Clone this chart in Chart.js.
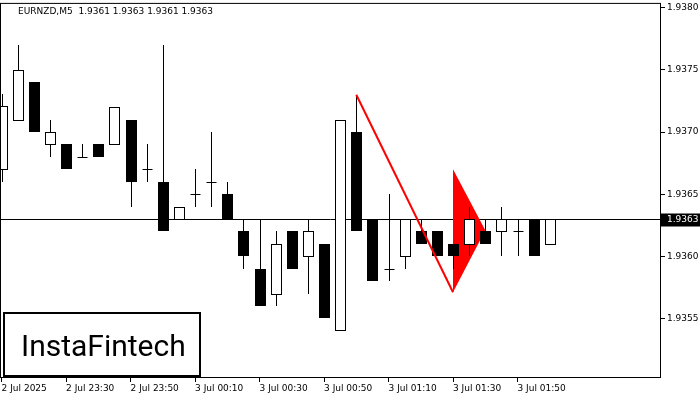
<!DOCTYPE html>
<html><head><meta charset="utf-8">
<script src="https://cdn.jsdelivr.net/npm/chart.js@4"></script>
<style>html,body{margin:0;padding:0;background:#fff}#w{width:700px;height:400px}</style>
</head><body><div id="w"><canvas id="c"></canvas></div>
<script>
const timeLabels = ["2 Jul 2025","2 Jul 23:30","2 Jul 23:50","3 Jul 00:10","3 Jul 00:30","3 Jul 00:50","3 Jul 01:10","3 Jul 01:30","3 Jul 01:50"];
const labelIndex = [0,4,8,12,16,20,24,28,32];
const opens  = [1.9367,1.9371,1.9374,1.9369,1.9369,1.9368,1.9369,1.9369,1.9371,1.9367,1.9366,1.9363,1.9365,1.9366,1.9365,1.9362,1.9359,1.9357,1.9362,1.9360,1.9361,1.93541,1.9370,1.9363,1.9359,1.9360,1.9362,1.9362,1.9361,1.9361,1.9362,1.9362,1.9362,1.9363,1.9361];
const highs  = [1.93731,1.9377,1.9374,1.9371,1.9369,1.9369,1.9369,1.9372,1.9371,1.9369,1.9377,1.9364,1.9367,1.9370,1.9366,1.9363,1.9363,1.9362,1.9362,1.9363,1.9361,1.9371,1.9373,1.9363,1.9365,1.9363,1.9363,1.9362,1.9361,1.9364,1.9363,1.9364,1.9363,1.9363,1.9363];
const lows   = [1.9366,1.9371,1.9370,1.9368,1.9367,1.9368,1.9368,1.9369,1.9364,1.9366,1.9362,1.9363,1.9364,1.9364,1.9363,1.9359,1.9356,1.9356,1.9359,1.9357,1.9355,1.93541,1.9362,1.9358,1.9358,1.9359,1.9361,1.9360,1.9359,1.9360,1.9361,1.9360,1.9360,1.9360,1.9361];
const closes = [1.93721,1.9375,1.9370,1.9370,1.9367,1.9368,1.9368,1.9372,1.9366,1.9367,1.9362,1.9364,1.9365,1.9366,1.9363,1.9360,1.9356,1.9361,1.9359,1.9362,1.9355,1.9371,1.9362,1.9358,1.9359,1.9363,1.9361,1.9360,1.9360,1.9363,1.9361,1.9363,1.9362,1.9360,1.9363];
const yTicks = [1.9355,1.9360,1.9365,1.9370,1.9375,1.9380];
const currentPrice = 1.9363;
const patternLine = [[22,1.9373],[28,1.93571]];
const pennant = [[28,1.9367],[30,1.93621],[28,1.93571]];
const title = "EURNZD,M5  1.9361 1.9363 1.9361 1.9363";

const candlePlugin = {
  id:'candles',
  afterDatasetsDraw(chart){
    const {ctx, chartArea:a, scales:{x,y}} = chart;
    ctx.save();
    ctx.beginPath(); ctx.rect(a.left,a.top,a.right-a.left,a.bottom-a.top); ctx.clip();
    const py = Math.round(y.getPixelForValue(currentPrice))+0.5;
    ctx.strokeStyle='#000'; ctx.lineWidth=1;
    ctx.beginPath(); ctx.moveTo(a.left,py); ctx.lineTo(a.right,py); ctx.stroke();
    ctx.fillStyle='#ff0000';
    ctx.beginPath();
    pennant.forEach((p,i)=>{const X=x.getPixelForValue(p[0]),Y=y.getPixelForValue(p[1]); i?ctx.lineTo(X,Y):ctx.moveTo(X,Y);});
    ctx.closePath(); ctx.fill();
    for(let i=0;i<opens.length;i++){
      const cx = Math.round(x.getPixelForValue(i))+0.5;
      const yo=y.getPixelForValue(opens[i]), yc=y.getPixelForValue(closes[i]);
      const yh=y.getPixelForValue(highs[i]), yl=y.getPixelForValue(lows[i]);
      ctx.strokeStyle='#000'; ctx.lineWidth=1;
      ctx.beginPath(); ctx.moveTo(cx,Math.round(yh)); ctx.lineTo(cx,Math.round(yl)); ctx.stroke();
      const t=Math.round(Math.min(yo,yc)), b=Math.round(Math.max(yo,yc));
      if(b-t<1){ctx.beginPath();ctx.moveTo(cx-5,t+0.5);ctx.lineTo(cx+5,t+0.5);ctx.stroke();continue;}
      if(closes[i]<opens[i]){ctx.fillStyle='#000';ctx.fillRect(cx-5.5,t,11,b-t);}
      else{ctx.fillStyle='#fff';ctx.fillRect(cx-5,t+0.5,10,b-t);ctx.strokeRect(cx-5,t+0.5,10,b-t);}
    }
    ctx.strokeStyle='#ff0000'; ctx.lineWidth=2;
    ctx.beginPath();
    ctx.moveTo(x.getPixelForValue(patternLine[0][0]),y.getPixelForValue(patternLine[0][1]));
    ctx.lineTo(x.getPixelForValue(patternLine[1][0]),y.getPixelForValue(patternLine[1][1]));
    ctx.stroke();
    ctx.restore();
    ctx.save();
    ctx.strokeStyle='#000'; ctx.lineWidth=1;
    ctx.strokeRect(a.left+0.5,a.top+0.5,a.right-a.left-1,a.bottom-a.top-1);
    ctx.fillStyle='#000'; ctx.font='9px "DejaVu Sans"'; ctx.textBaseline='middle';
    ctx.fillText(title,18,12);
    ctx.fillStyle='#000'; ctx.fillRect(a.right,py-6,39,13);
    ctx.fillStyle='#fff'; ctx.fillText(currentPrice.toFixed(4),a.right+6,py+0.5);
    ctx.fillStyle='#fff'; ctx.fillRect(3,312,197,65);
    ctx.strokeStyle='#000'; ctx.lineWidth=2; ctx.strokeRect(4,313,196,63);
    ctx.fillStyle='#000'; ctx.font='400 30px "Roboto"'; ctx.textBaseline='alphabetic';
    ctx.fillText('InstaFintech',21,356);
    ctx.restore();
  }
};

new Chart(document.getElementById('c'),{
  type:'line',
  data:{datasets:[{data:closes.map((c,i)=>({x:i,y:c})),showLine:false,pointRadius:0,borderColor:'transparent'}]},
  options:{
    responsive:true, maintainAspectRatio:false, animation:false,
    layout:{padding:{left:0,top:0,right:0,bottom:0}},
    plugins:{legend:{display:false},tooltip:{enabled:false}},
    scales:{
      x:{type:'linear',min:-0.1,max:40.9,
        afterBuildTicks:s=>{s.ticks=labelIndex.map(v=>({value:v}));},
        afterFit:s=>{s.height=22;},
        border:{display:false},
        grid:{drawOnChartArea:false,drawTicks:true,tickLength:4,color:'#000'},
        ticks:{autoSkip:false,maxRotation:0,align:'start',padding:1,color:'#000',font:{size:9,family:'DejaVu Sans'},
          callback:v=>{const k=labelIndex.indexOf(v);return k>=0?timeLabels[k]:'';}}},
      y:{position:'right',min:1.93502,max:1.93804,
        afterBuildTicks:s=>{s.ticks=yTicks.map(v=>({value:v}));},
        afterFit:s=>{s.width=39;},
        border:{display:false},
        grid:{drawOnChartArea:false,drawTicks:true,tickLength:4,color:'#000'},
        ticks:{padding:2,color:'#000',font:{size:9,family:'DejaVu Sans',lineHeight:0.2},callback:v=>v.toFixed(4)}}
    }
  },
  plugins:[candlePlugin]
});
</script></body></html>
